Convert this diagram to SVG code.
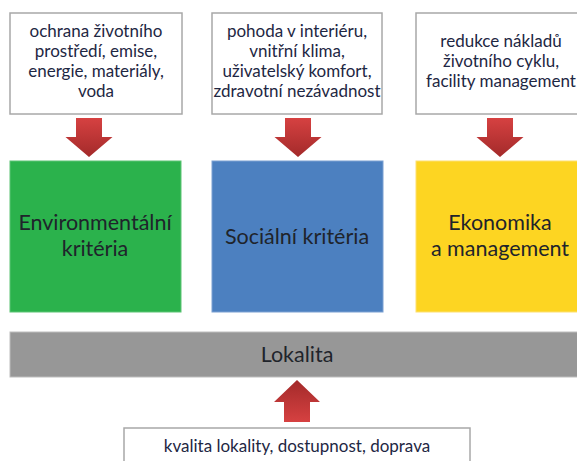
<svg xmlns="http://www.w3.org/2000/svg" width="577" height="461" viewBox="0 0 577 461">
<defs>
<linearGradient id="gDown" x1="0" y1="0" x2="0" y2="1">
<stop offset="0" stop-color="#d64141"/>
<stop offset="1" stop-color="#a32a2a"/>
</linearGradient>
<linearGradient id="gUp" x1="0" y1="1" x2="0" y2="0">
<stop offset="0" stop-color="#d64141"/>
<stop offset="1" stop-color="#a32a2a"/>
</linearGradient>
</defs>
<style>
.box{fill:#ffffff;stroke:#a8a8a8;stroke-width:1.5}
.t{font-family:Lato,"Liberation Sans",sans-serif;font-size:17px;fill:#1e2743;text-anchor:middle}
.big{font-family:Lato,"Liberation Sans",sans-serif;font-size:21.5px;fill:#1f242b;text-anchor:middle}
.down{fill:url(#gDown)}
.up{fill:url(#gUp)}
</style>
<rect width="577" height="461" fill="#ffffff"/>
<g id="top-env">
<rect class="box" x="10" y="13" width="172" height="101"/>
<text class="t" x="96" y="37">ochrana životního</text>
<text class="t" x="96" y="57">prostředí, emise,</text>
<text class="t" x="96" y="77">energie, materiály,</text>
<text class="t" x="96" y="97">voda</text>
</g>
<g id="top-soc">
<rect class="box" x="212" y="13" width="170" height="101"/>
<text class="t" x="297" y="37">pohoda v interiéru,</text>
<text class="t" x="297" y="57">vnitřní klima,</text>
<text class="t" x="297" y="77">uživatelský komfort,</text>
<text class="t" x="297" y="97">zdravotní nezávadnost</text>
</g>
<g id="top-eko">
<rect class="box" x="416" y="13" width="175" height="101"/>
<text class="t" x="501" y="47">redukce nákladů</text>
<text class="t" x="501" y="67">životního cyklu,</text>
<text class="t" x="501" y="87">facility management</text>
</g>
<g id="env">
<rect x="10" y="161" width="171" height="151" fill="#2bb24c" stroke="#5cc474" stroke-width="1"/>
<text class="big" x="95" y="230">Environmentální</text>
<text class="big" x="95" y="256">kritéria</text>
</g>
<g id="soc">
<rect x="212" y="161" width="171" height="151" fill="#4c80c0" stroke="#7aa0d2" stroke-width="1"/>
<text class="big" x="297" y="244">Sociální kritéria</text>
</g>
<g id="eko">
<rect x="416" y="161" width="175" height="151" fill="#fdd522" stroke="#fde070" stroke-width="1"/>
<text class="big" x="500" y="230">Ekonomika</text>
<text class="big" x="500" y="256">a management</text>
</g>
<g id="lokalita">
<rect x="10" y="332" width="580" height="45" fill="#979797" stroke="#bdbdbd" stroke-width="1"/>
<text class="big" x="297" y="362">Lokalita</text>
</g>
<g id="bottom">
<rect class="box" x="124" y="428" width="346" height="40"/>
<text class="t" x="297" y="452">kvalita lokality, dostupnost, doprava</text>
</g>
<g id="connectors">
<polygon class="down" points="76,118 102,118 102,137 112.5,137 89,157 65.5,137 76,137"/>
<polygon class="down" points="285,118 311,118 311,137 321.5,137 298,157 274.5,137 285,137"/>
<polygon class="down" points="487,118 513,118 513,137 523.5,137 500,157 476.5,137 487,137"/>
<polygon class="up" points="284,422 310,422 310,402 320,402 297,380 274,402 284,402"/>
</g>
</svg>
